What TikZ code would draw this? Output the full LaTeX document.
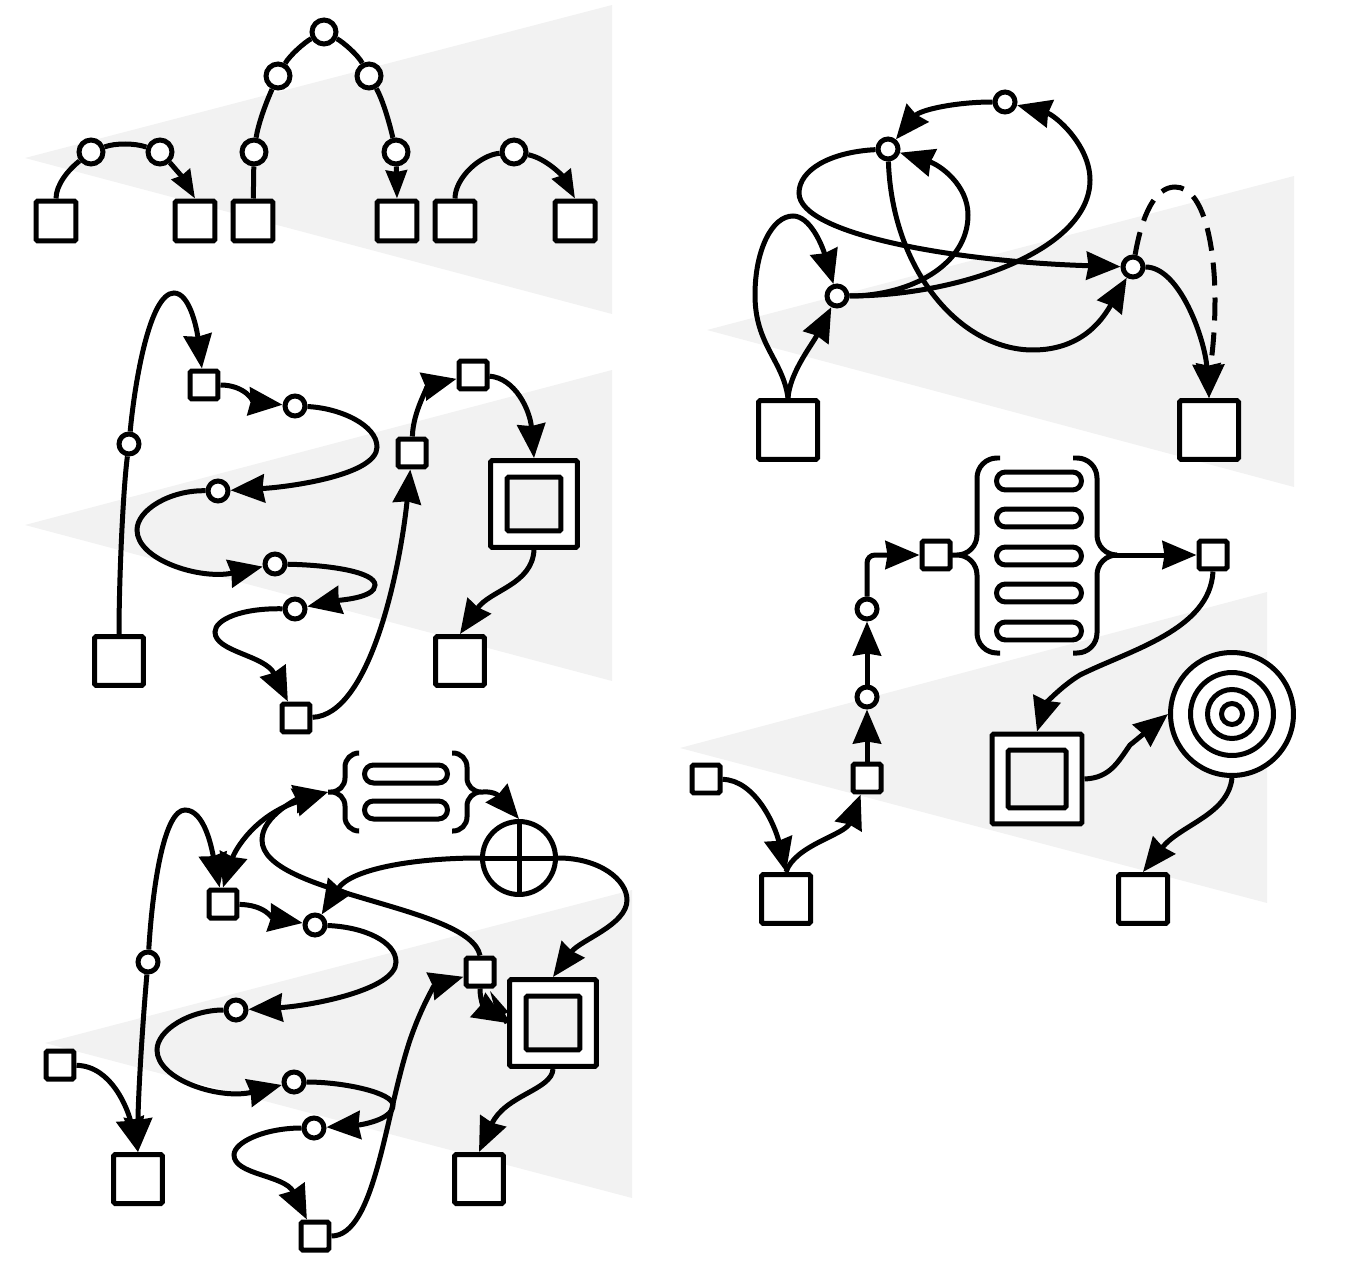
\documentclass[tikz,border=0pt]{standalone}
\usetikzlibrary{arrows.meta,shapes.misc}
\definecolor{wedgegray}{HTML}{F2F2F2}
\begin{document}
\begin{tikzpicture}[x=0.02cm, y=-0.02cm, >={Stealth[length=0.68cm, width=0.56cm, inset=0.04cm]},
    wedge/.style={fill=wedgegray, draw=none},
    wire/.style={line width=0.1cm},
    arrowwire/.style={wire, ->},
    tinyarrow/.style={wire, -{Stealth[length=0.56cm, width=0.42cm, inset=0.03cm]}},
    slimarrow/.style={wire, -{Stealth[length=0.6cm, width=0.22cm, inset=0cm]}},
    boxnode/.style={draw, fill=white, line width=0.1cm, rounded corners=1pt, inner sep=0pt},
    bigbox/.style={boxnode, minimum size=0.98cm},
    topbox/.style={boxnode, minimum size=0.8cm},
    hugebox/.style={boxnode, minimum size=1.18cm},
    smallbox/.style={boxnode, minimum size=0.56cm},
    outerbox/.style={boxnode, minimum size=1.74cm},
    innerbox/.style={boxnode, fill=wedgegray, minimum size=1.08cm},
    dot/.style={circle, draw, fill=white, line width=0.1cm, inner sep=0pt, minimum size=0.4cm},
    bigdot/.style={dot, minimum size=0.48cm},
    ring/.style={circle, draw, fill=white, line width=0.1cm, inner sep=0pt},
    pill/.style={rounded rectangle, draw, line width=0.1cm, inner sep=0pt, minimum width=1.66cm, minimum height=0.36cm}]
  \useasboundingbox (0,0) rectangle (1350,1267);
  \fill[wedge] (25,158) -- (612,5) -- (612,314) -- cycle;
  \fill[wedge] (25,525) -- (612,370) -- (612,681) -- cycle;
  \fill[wedge] (45,1043) -- (632,890) -- (632,1198) -- cycle;
  \fill[wedge] (707,330) -- (1294,176) -- (1294,487) -- cycle;
  \fill[wedge] (680,748) -- (1267,592) -- (1267,903) -- cycle;

  \node[topbox] (a1) at (56,221) {};
  \node[topbox] (a2) at (195,221) {};
  \node[topbox] (a3) at (253,221) {};
  \node[topbox] (a4) at (397,221) {};
  \node[topbox] (a5) at (455,221) {};
  \node[topbox] (a6) at (575,221) {};
  \node[bigdot] (ad1) at (91,152) {};
  \node[bigdot] (ad2) at (160,152) {};
  \node[bigdot] (ad3) at (254,152) {};
  \node[bigdot] (ad4) at (278,76) {};
  \node[bigdot] (ad5) at (324,32) {};
  \node[bigdot] (ad6) at (369,76) {};
  \node[bigdot] (ad7) at (396,152) {};
  \node[bigdot] (ad8) at (514,152) {};
  \draw[wire] (a1) .. controls (56,185) and (68,170) .. (ad1);
  \draw[wire] (ad1) .. controls (115,143) and (135,143) .. (ad2);
  \draw[tinyarrow] (ad2) .. controls (172,165) and (183,178) .. (a2.north);
  \draw[wire] (a3) -- (ad3);
  \draw[wire] (ad3) .. controls (258,125) and (265,105) .. (ad4);
  \draw[wire] (ad4) .. controls (290,55) and (305,42) .. (ad5);
  \draw[wire] (ad5) .. controls (343,42) and (358,55) .. (ad6);
  \draw[wire] (ad6) .. controls (383,100) and (390,125) .. (ad7);
  \draw[tinyarrow] (ad7) -- (a4.north);
  \draw[wire] (a5.north) .. controls (455,178) and (480,155) .. (ad8);
  \draw[tinyarrow] (ad8) .. controls (545,158) and (562,175) .. (a6.north);

  \node[bigbox] (b1) at (119,661) {};
  \node[bigbox] (b2) at (460,661) {};
  \node[smallbox] (bs1) at (204,385) {};
  \node[smallbox] (bs2) at (296,718) {};
  \node[smallbox] (bs3) at (412,453) {};
  \node[smallbox] (bs4) at (473,375) {};
  \node[outerbox] (bo) at (534,504) {};
  \node[innerbox] (bi) at (534,504) {};
  \node[dot] (bd1) at (129,444) {};
  \node[dot] (bd2) at (295,406) {};
  \node[dot] (bd3) at (218,491) {};
  \node[dot] (bd4) at (275,564) {};
  \node[dot] (bd5) at (295,609) {};
  \draw[wire] (b1.north) .. controls (119,580) and (123,490) .. (bd1);
  \draw[arrowwire] (bd1) .. controls (135,380) and (150,293) .. (174,293) .. controls (190,293) and (197,330) .. (bs1);
  \draw[arrowwire] (bs1) .. controls (245,385) and (255,402) .. (bd2);
  \draw[arrowwire] (bd2) .. controls (340,408) and (377,425) .. (377,447) .. controls (377,475) and (290,487) .. (bd3);
  \draw[arrowwire] (bd3) .. controls (170,490) and (137,510) .. (137,530) .. controls (137,560) and (200,580) .. (bd4);
  \draw[arrowwire] (bd4) .. controls (330,565) and (375,572) .. (375,585) .. controls (375,598) and (340,600) .. (bd5);
  \draw[arrowwire] (bd5) .. controls (240,608) and (215,620) .. (215,632) .. controls (215,652) and (265,655) .. (bs2);
  \draw[arrowwire] (bs2) .. controls (370,715) and (400,570) .. (bs3);
  \draw[arrowwire] (bs3) .. controls (413,410) and (430,385) .. (bs4);
  \draw[arrowwire] (bs4) .. controls (515,378) and (530,410) .. (bo.north);
  \draw[arrowwire] (bo.south) .. controls (532,585) and (490,590) .. (b2.north);

  \node[bigbox] (c1) at (138,1179) {};
  \node[bigbox] (c2) at (479,1179) {};
  \node[smallbox] (cs1) at (60,1065) {};
  \node[smallbox] (cs2) at (223,904) {};
  \node[smallbox] (cs3) at (315,1236) {};
  \node[smallbox] (cs4) at (480,972) {};
  \node[outerbox] (co) at (553,1023) {};
  \node[innerbox] (ci) at (553,1023) {};
  \node[dot] (cd1) at (148,962) {};
  \node[dot] (cd2) at (315,925) {};
  \node[dot] (cd3) at (236,1010) {};
  \node[dot] (cd4) at (294,1082) {};
  \node[dot] (cd5) at (314,1128) {};
  \node[circle, draw, line width=0.1cm, minimum size=1.46cm] (cop) at (519,858) {};
  \draw[wire] (cop.north) -- (cop.south);
  \draw[wire] (cop.west) -- (cop.east);
  \node[pill] (cp1) at (406,774) {};
  \node[pill] (cp2) at (406,810) {};
  \coordinate (cbl) at (328,792);
  \coordinate (cbr) at (483,792);
  \draw[wire, rounded corners=0.28cm] (359,753) -| (345,792) -- (cbl) (359,831) -| (345,792) -- (cbl);
  \draw[wire, rounded corners=0.28cm] (452,753) -| (467,792) -- (cbr) (452,831) -| (467,792) -- (cbr);
  \draw[arrowwire] (cs1) .. controls (112,1066) and (128,1110) .. (c1.north);
  \draw[arrowwire] (cd1) .. controls (142,1030) and (138,1100) .. (c1.north);
  \draw[arrowwire] (cd1) .. controls (153,880) and (165,810) .. (185,810) .. controls (205,810) and (212,850) .. (cs2);
  \draw[wire, <->] (cs2.north) .. controls (235,850) and (255,815) .. (cbl);
  \draw[arrowwire] (cs4.north) .. controls (470,905) and (262,895) .. (262,840) .. controls (262,815) and (300,798) .. (cbl);
  \draw[arrowwire] (cbr) .. controls (495,791) and (500,797) .. (cop.north);
  \draw[arrowwire] (cop.west) .. controls (410,858) and (350,870) .. (cd2);
  \draw[arrowwire] (cop.east) .. controls (600,858) and (627,880) .. (627,900) .. controls (627,925) and (580,940) .. (co.north);
  \draw[arrowwire] (cs2) .. controls (265,905) and (272,918) .. (cd2);
  \draw[arrowwire] (cd2) .. controls (365,927) and (396,942) .. (396,962) .. controls (396,990) and (310,1006) .. (cd3);
  \draw[arrowwire] (cd3) .. controls (190,1010) and (157,1030) .. (157,1050) .. controls (157,1080) and (220,1100) .. (cd4);
  \draw[arrowwire] (cd4) .. controls (345,1082) and (393,1093) .. (393,1105) .. controls (393,1120) and (360,1125) .. (cd5);
  \draw[arrowwire] (cd5) .. controls (265,1128) and (234,1142) .. (234,1155) .. controls (234,1175) and (285,1175) .. (cs3);
  \draw[arrowwire] (cs3) .. controls (375,1236) and (385,1115) .. (410,1040) .. controls (422,1005) and (435,985) .. (cs4);
  \draw[arrowwire] (cs4.south) .. controls (480,1003) and (486,1010) .. (co.west);
  \draw[slimarrow] (co.west) -- (cs4);
  \draw[arrowwire] (co.south) .. controls (552,1090) and (505,1095) .. (c2.north);

  \node[hugebox] (d1) at (788,430) {};
  \node[hugebox] (d2) at (1209,430) {};
  \node[dot] (dd1) at (837,296) {};
  \node[dot] (dd2) at (888,149) {};
  \node[dot] (dd3) at (1005,102) {};
  \node[dot] (dd4) at (1133,267) {};
  \draw[arrowwire] (d1.north) .. controls (790,372) and (812,345) .. (dd1);
  \draw[arrowwire] (d1.north) .. controls (783,360) and (755,345) .. (755,295) .. controls (755,250) and (772,216) .. (793,216) .. controls (810,216) and (822,245) .. (dd1);
  \draw[arrowwire] (dd1) .. controls (910,296) and (968,265) .. (968,215) .. controls (968,185) and (940,165) .. (dd2);
  \draw[arrowwire] (dd1) .. controls (960,296) and (1090,250) .. (1090,180) .. controls (1090,145) and (1055,115) .. (dd3);
  \draw[arrowwire] (dd3) .. controls (955,102) and (920,110) .. (dd2);
  \draw[arrowwire] (dd2) .. controls (830,152) and (799,170) .. (799,193) .. controls (799,235) and (960,262) .. (dd4);
  \draw[arrowwire] (dd2) .. controls (892,270) and (960,350) .. (1033,350) .. controls (1085,350) and (1105,315) .. (dd4);
  \draw[arrowwire] (dd4) .. controls (1180,267) and (1205,340) .. (d2.north);
  \draw[arrowwire, dash pattern=on 0.46cm off 0.24cm] (dd4) .. controls (1142,215) and (1155,187) .. (1175,187) .. controls (1205,187) and (1215,250) .. (1215,300) .. controls (1215,340) and (1210,370) .. (d2.north);

  \node[bigbox] (e1) at (786,899) {};
  \node[bigbox] (e2) at (1143,899) {};
  \node[smallbox] (es1) at (706,779) {};
  \node[smallbox] (es2) at (867,778) {};
  \node[smallbox] (es3) at (936,555) {};
  \node[smallbox] (es4) at (1213,555) {};
  \node[outerbox, minimum size=1.8cm] (eo) at (1037,779) {};
  \node[innerbox, minimum size=1.16cm] (ei) at (1037,779) {};
  \node[dot] (ed1) at (867,697) {};
  \node[dot] (ed2) at (867,609) {};
  \node[ring, minimum size=2.46cm] (er1) at (1232,714) {};
  \node[ring, minimum size=1.66cm] (er2) at (1232,714) {};
  \node[ring, minimum size=0.98cm] (er3) at (1232,714) {};
  \node[ring, minimum size=0.42cm] (er4) at (1232,714) {};
  \foreach \y [count=\i] in {481,518,556,593,631}
    \node[pill, minimum width=1.7cm] (ep\i) at (1039,\y) {};
  \coordinate (ebl) at (952,555);
  \coordinate (ebr) at (1113,555);
  \draw[wire, rounded corners=0.4cm] (1000,458) -| (977,555) -- (ebl) (1000,653) -| (977,555) -- (ebl);
  \draw[wire, rounded corners=0.4cm] (1073,458) -| (1097,555) -- (ebr) (1073,653) -| (1097,555) -- (ebr);
  \draw[arrowwire] (es1) .. controls (755,780) and (775,825) .. (e1.north);
  \draw[arrowwire] (e1.north) .. controls (795,845) and (845,835) .. (es2);
  \draw[arrowwire] (es2) -- (ed1);
  \draw[arrowwire] (ed1) -- (ed2);
  \draw[arrowwire, rounded corners=0.16cm] (ed2) |- (es3);
  \draw[arrowwire] (ebr) -- (es4);
  \draw[arrowwire] (es4.south) .. controls (1210,630) and (1130,650) .. (1080,675) .. controls (1060,687) and (1045,705) .. (eo.north);
  \draw[arrowwire] (eo.east) .. controls (1110,778) and (1118,762) .. (1130,745) -- (er1.west);
  \draw[arrowwire] (er1.south) .. controls (1228,815) and (1180,825) .. (e2.north);
\end{tikzpicture}
\end{document}
